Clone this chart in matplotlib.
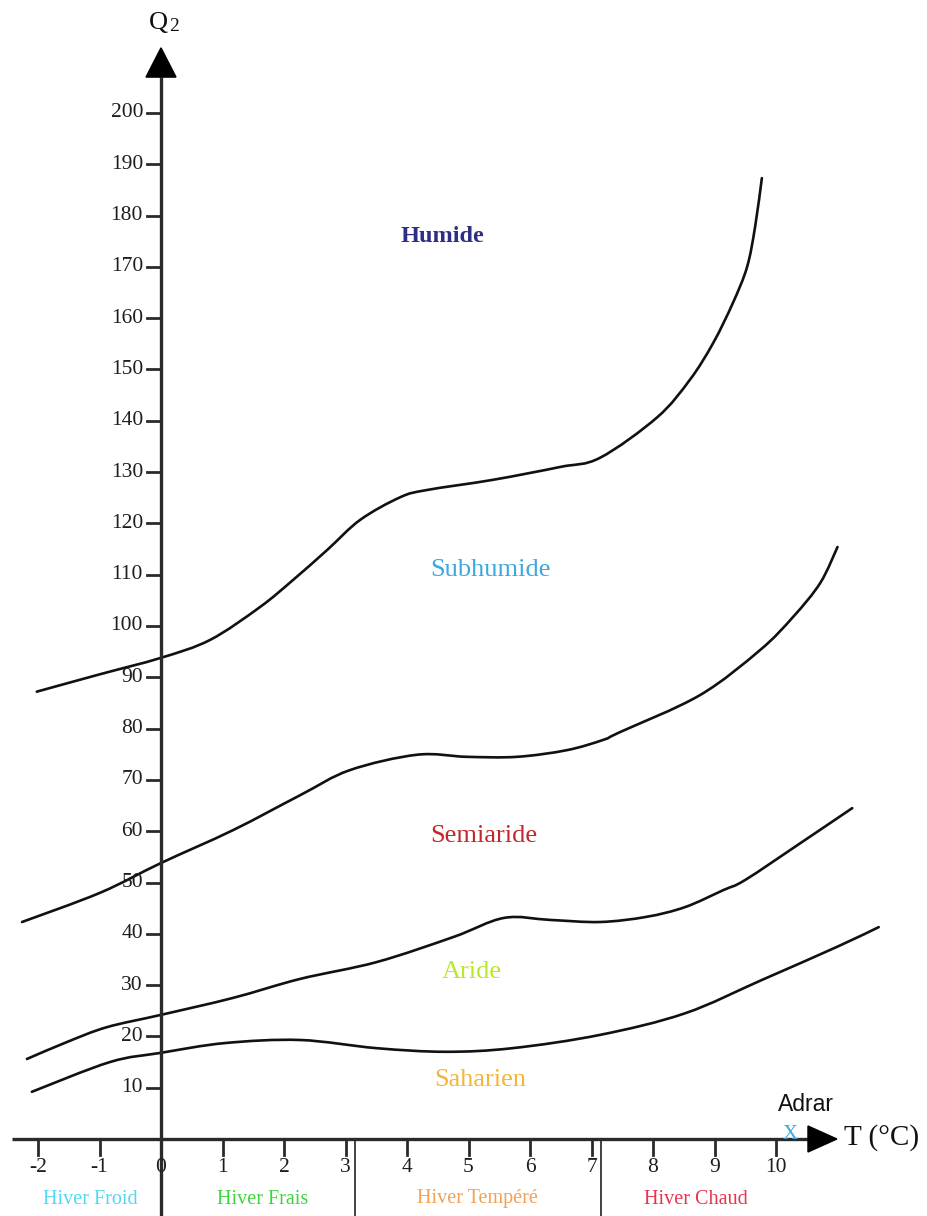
import matplotlib
matplotlib.use("Agg")
import matplotlib.pyplot as plt
from matplotlib.patches import Polygon, PathPatch
from matplotlib.path import Path

# Emberger climagram: Q2 versus T (mean minimum of the coldest month, °C)
t_ticks = [-2, -1, 0, 1, 2, 3, 4, 5, 6, 7, 8, 9, 10]
q_ticks = [10, 20, 30, 40, 50, 60, 70, 80, 90, 100,
           110, 120, 130, 140, 150, 160, 170, 180, 190, 200]

# Boundary Humide / Subhumide
humide_t = [-2.02, -0.99, 0.0, 0.8, 1.61, 2.15, 2.7, 3.24, 3.89, 4.32,
            5.4, 6.49, 7.14, 8.07, 8.6, 8.98, 9.3, 9.53, 9.66, 9.77]
humide_q = [87.2, 90.6, 93.8, 97.3, 103.7, 109.0, 114.8, 120.7, 125.1, 126.5,
            128.5, 131.0, 132.8, 140.7, 148.0, 155.2, 163.0, 170.0, 177.8, 187.3]

# Boundary Subhumide / Semiaride
subhumide_t = [-2.26, -0.99, 0.0, 1.17, 2.26, 3.07, 4.16, 4.97, 5.79, 6.6,
               7.19, 7.46, 8.76, 9.74, 10.28, 10.72, 11.0]
subhumide_q = [42.3, 48.0, 53.8, 60.2, 67.0, 71.9, 74.9, 74.5, 74.5, 75.8,
               77.8, 79.3, 86.5, 95.3, 101.8, 108.4, 115.4]

# Boundary Semiaride / Aride
semiaride_t = [-2.18, -1.53, -0.88, 0.0, 1.17, 2.26, 3.51, 4.76, 5.58, 6.33,
               7.14, 7.89, 8.52, 9.14, 9.5, 10.4, 11.24]
semiaride_q = [15.6, 18.9, 21.8, 24.2, 27.5, 31.2, 34.5, 39.4, 43.1, 42.7,
               42.3, 43.3, 45.2, 48.5, 50.5, 57.7, 64.5]

# Boundary Aride / Saharien
aride_t = [-2.1, -0.83, 0.0, 1.04, 2.26, 3.51, 4.63, 5.71, 7.14, 8.52,
           9.77, 11.0, 11.67]
aride_q = [9.2, 15.0, 16.8, 18.7, 19.3, 17.7, 17.0, 17.7, 20.3, 24.5,
           31.0, 37.5, 41.3]

zone_names = ["Humide", "Subhumide", "Semiaride", "Aride", "Saharien"]
zone_t = [4.57, 5.35, 5.25, 5.06, 5.19]
zone_q = [176.0, 111.0, 59.0, 32.5, 11.5]
zone_colors = ["#2e2e86", "#3da8df", "#c1272d", "#b8e82a", "#f4b63a"]

winter_names = ["Hiver Froid", "Hiver Frais", "Hiver Tempéré", "Hiver Chaud"]
winter_t = [-1.15, 1.65, 5.15, 8.7]
winter_colors = ["#52d8f2", "#3fd43f", "#f2a055", "#e8334d"]
winter_limits = [3.15, 7.15]

station_name = "Adrar"
station_t = 10.23
station_q = 0.8

SERIF = "Liberation Serif"
px_t = 61.5   # pixels per °C
px_q = 5.13   # pixels per Q2 unit

fig = plt.figure(figsize=(9.28, 12.16), dpi=100)
ax = fig.add_axes([0, 0, 1, 1])
ax.set_xlim(-161 / px_t, (928 - 161) / px_t)
ax.set_ylim((1139 - 1216) / px_q, 1139 / px_q)
ax.axis("off")

axis_color = "#2a2a2a"
ymin, ymax = ax.get_ylim()


def smooth_path(ts, qs):
    """Cubic Bezier path passing through every point (Catmull-Rom tangents)."""
    pts = list(zip(ts, qs))
    verts = [pts[0]]
    codes = [Path.MOVETO]
    n = len(pts)
    for i in range(n - 1):
        p0 = pts[i - 1] if i > 0 else pts[i]
        p1 = pts[i]
        p2 = pts[i + 1]
        p3 = pts[i + 2] if i + 2 < n else pts[i + 1]
        c1 = (p1[0] + (p2[0] - p0[0]) / 6.0, p1[1] + (p2[1] - p0[1]) / 6.0)
        c2 = (p2[0] - (p3[0] - p1[0]) / 6.0, p2[1] - (p3[1] - p1[1]) / 6.0)
        verts += [c1, c2, p2]
        codes += [Path.CURVE4] * 3
    return Path(verts, codes)


# Axes lines with arrow heads
ax.plot([0, 0], [ymin, 207.0], color=axis_color, lw=2.4, solid_capstyle="butt", zorder=3)
ax.plot([-2.42, 10.55], [0, 0], color=axis_color, lw=2.4, solid_capstyle="butt", zorder=3)
ax.add_patch(Polygon([[-15 / px_t, 207.0], [15 / px_t, 207.0], [0, 212.7]],
                     closed=True, color="black", zorder=4))
ax.add_patch(Polygon([[10.52, -13 / px_q], [10.52, 13 / px_q], [10.99, 0]],
                     closed=True, color="black", zorder=4))

# Ticks and tick labels
for q in q_ticks:
    ax.plot([-14 / px_t, 0], [q, q], color=axis_color, lw=2.0, zorder=3)
    ax.text(-18 / px_t, q, str(q), ha="right", va="center",
            family=SERIF, fontsize=15.5, color="#1e1e1e")
for t in t_ticks:
    if t != 0:
        ax.plot([t, t], [0, -16 / px_q], color=axis_color, lw=2.0, zorder=3)
    ax.text(t, -28 / px_q, str(t), ha="center", va="center",
            family=SERIF, fontsize=15.5, color="#1e1e1e")

# Axis titles
ax.text(-3 / px_t, 1139 / px_q - 23 / px_q, "Q", ha="center", va="center",
        family=SERIF, fontsize=19, color="#111111")
ax.text(13 / px_t, 1139 / px_q - 27 / px_q, "2", ha="center", va="center",
        family=SERIF, fontsize=14, color="#111111")
ax.text(11.1, 0.3, "T (°C)", ha="left", va="center",
        family=SERIF, fontsize=21, color="#111111")

# Climate limits
for tt, qq in [(humide_t, humide_q), (subhumide_t, subhumide_q),
               (semiaride_t, semiaride_q), (aride_t, aride_q)]:
    ax.add_patch(PathPatch(smooth_path(tt, qq), facecolor="none",
                           edgecolor="#111111", lw=1.9, capstyle="round", zorder=2))

# Zone names
for name, t, q, c in zip(zone_names, zone_t, zone_q, zone_colors):
    bold = name == "Humide"
    ax.text(t, q, name, ha="center", va="center", family=SERIF,
            fontsize=17.5 if bold else 19, color=c,
            fontweight="bold" if bold else "normal")

# Winter variants below the axis
for xl in winter_limits:
    ax.plot([xl, xl], [0, ymin], color="#333333", lw=1.3, zorder=2)
for name, t, c in zip(winter_names, winter_t, winter_colors):
    ax.text(t, -60 / px_q, name, ha="center", va="center",
            family=SERIF, fontsize=14.5, color=c)

# Station
ax.text(station_t, station_q, "X", ha="center", va="center",
        family=SERIF, fontsize=15, color="#3da8df", zorder=5)
ax.text(station_t - 0.2, station_q + 6.0, station_name, ha="left", va="center",
        family="Liberation Sans", fontsize=16.5, color="#111111")

fig.savefig("out.png", dpi=100, facecolor="white")
